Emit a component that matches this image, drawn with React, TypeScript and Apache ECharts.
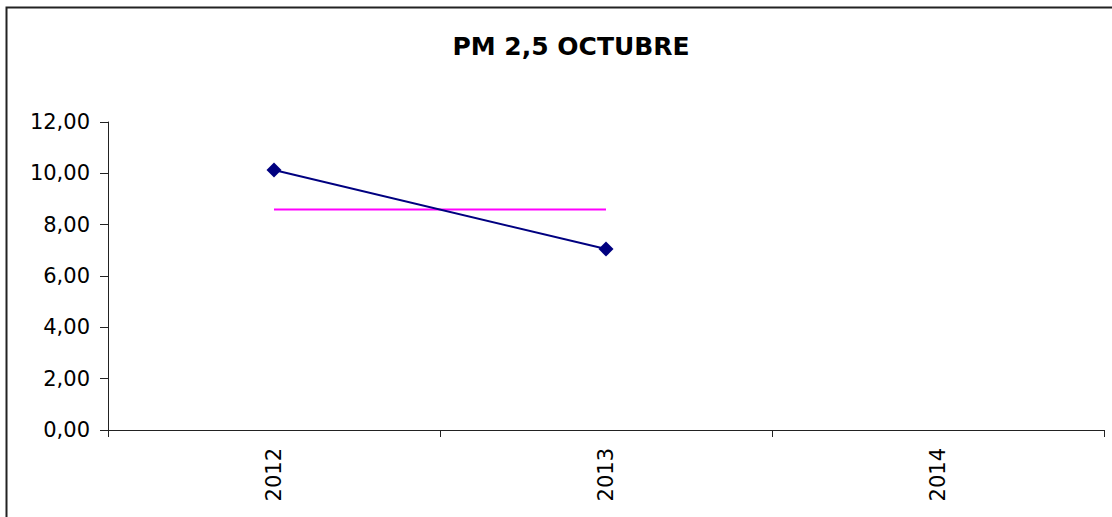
import React, { useEffect, useRef } from "react";
import * as echarts from "echarts";

const categories = ["2012", "2013", "2014"];
const pmValues = [10.13, 7.05, null];
const averageValues = [8.59, 8.59, null];
const yTicks = { min: 0, max: 12, interval: 2 };
const titleText = "PM 2,5 OCTUBRE";

export default function App() {
  const ref = useRef<HTMLDivElement>(null);
  useEffect(() => {
    if (!ref.current) return;
    const chart = echarts.init(ref.current, null, { renderer: "svg" });
    const font = "'DejaVu Sans', 'Liberation Sans', Arial, sans-serif";
    chart.setOption({
      animation: false,
      backgroundColor: "#ffffff",
      title: {
        text: titleText,
        left: 566,
        top: 29,
        textAlign: "center",
        textStyle: { fontFamily: font, fontSize: 25, fontWeight: "bold", color: "#000" },
      },
      graphic: [
        {
          type: "rect",
          shape: { x: 6.5, y: 7.5, width: 1130, height: 530 },
          style: { fill: "none", stroke: "#222", lineWidth: 2 },
          silent: true,
        },
      ],
      grid: { left: 108, right: 8, top: 122, bottom: 87 },
      xAxis: {
        type: "category",
        data: categories,
        boundaryGap: true,
        axisLine: { lineStyle: { color: "#222", width: 1 } },
        axisTick: { show: true, length: 7, lineStyle: { color: "#222" } },
        axisLabel: {
          rotate: 90,
          margin: 18,
          fontFamily: font,
          fontSize: 21,
          color: "#000",
        },
        splitLine: { show: false },
      },
      yAxis: {
        type: "value",
        min: yTicks.min,
        max: yTicks.max,
        interval: yTicks.interval,
        axisLine: { show: true, lineStyle: { color: "#222", width: 1 } },
        axisTick: { show: true, length: 8, lineStyle: { color: "#222" } },
        axisLabel: {
          margin: 18,
          fontFamily: font,
          fontSize: 21,
          color: "#000",
          formatter: (v: number) => v.toFixed(2).replace(".", ","),
        },
        splitLine: { show: false },
      },
      series: [
        {
          type: "line",
          data: averageValues,
          showSymbol: false,
          symbol: "none",
          lineStyle: { color: "#ff00ff", width: 2 },
          itemStyle: { color: "#ff00ff" },
          z: 2,
        },
        {
          type: "line",
          data: pmValues,
          symbol: "diamond",
          symbolSize: 15,
          lineStyle: { color: "#000080", width: 2 },
          itemStyle: { color: "#000080" },
          z: 3,
        },
      ],
    });
    return () => chart.dispose();
  }, []);
  return (
    <div
      ref={ref}
      style={{ position: "absolute", left: 0, top: 0, width: 1112, height: 517 }}
    />
  );
}
